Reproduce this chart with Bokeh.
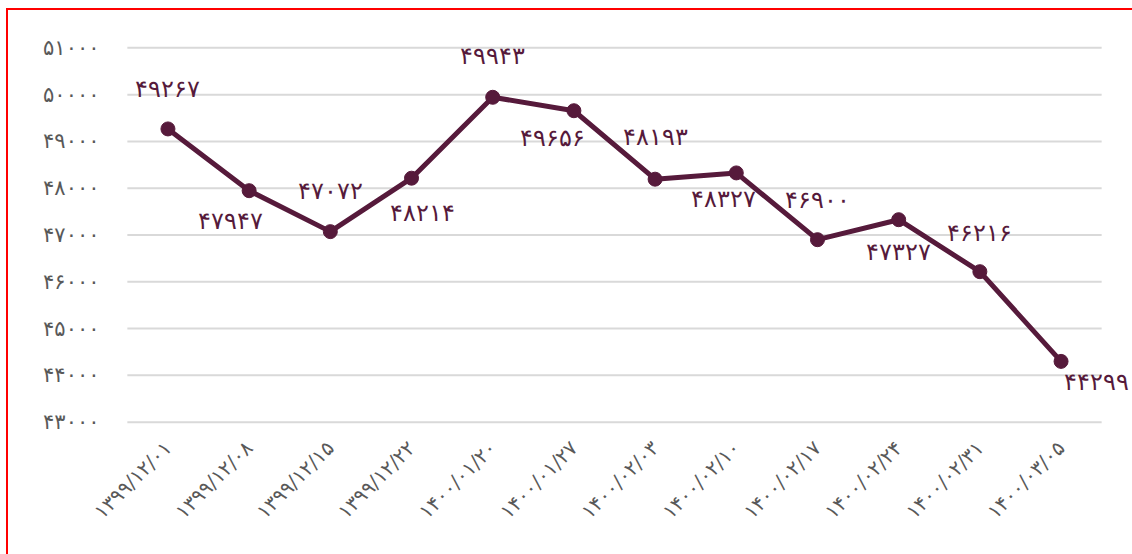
from bokeh.plotting import figure
from bokeh.models import FixedTicker, ColumnDataSource, LabelSet, FactorRange
from bokeh.embed import file_html
from bokeh.resources import INLINE
import math

FA = str.maketrans("0123456789", "۰۱۲۳۴۵۶۷۸۹")

dates = ["1399/12/01", "1399/12/08", "1399/12/15", "1399/12/22", "1400/01/20", "1400/01/27",
         "1400/02/03", "1400/02/10", "1400/02/17", "1400/02/24", "1400/02/31", "1400/03/05"]
prices = [49267, 47947, 47072, 48214, 49943, 49656, 48193, 48327, 46900, 47327, 46216, 44299]
y_ticks = [43000, 44000, 45000, 46000, 47000, 48000, 49000, 50000, 51000]

# label placement (styles): pixel offsets of each value label (up = positive)
label_dx = [0, -19, 0, 11, 0, -21, 0, -13, 0, 0, 0, 35]
label_dy = [40, -30, 41, -35, 41, -27, 42, -26, 40, -32, 39, -21]

cats = [d.translate(FA) for d in dates]
src = ColumnDataSource(dict(x=cats, y=prices, t=[str(v).translate(FA) for v in prices],
                            dx=label_dx, dy=label_dy))
grid_src = ColumnDataSource(dict(x0=[(cats[0], -0.5)] * len(y_ticks),
                                 x1=[(cats[-1], 0.5)] * len(y_ticks),
                                 y=y_ticks))

FONT = "DejaVu Sans"
LINE = "#561a3b"
GRAY = "#595959"

xr = FactorRange(factors=cats, range_padding=0.38, range_padding_units="absolute")
p = figure(x_range=xr, y_range=(42950, 51050), width=1132, height=554,
           output_backend="svg", toolbar_location=None,
           min_border_left=96, min_border_right=0, min_border_top=45, min_border_bottom=130)
p.border_fill_color = None
p.background_fill_color = None
p.styles = {"background": "linear-gradient(red, red) 6px 8px / 2px 100% no-repeat, "
                          "linear-gradient(red, red) 6px 8px / 100% 2px no-repeat, white"}
p.outline_line_color = None
p.xgrid.grid_line_color = None
p.ygrid.grid_line_color = None

p.yaxis.ticker = FixedTicker(ticks=y_ticks)
p.yaxis.major_label_overrides = {v: str(v).translate(FA) for v in y_ticks}
for ax in (p.xaxis, p.yaxis):
    ax.axis_line_color = None
    ax.major_tick_line_color = None
    ax.minor_tick_line_color = None
    ax.major_label_text_font = FONT
    ax.major_label_text_color = GRAY
p.yaxis.major_label_text_font_size = "21px"
p.yaxis.major_label_standoff = -9
p.xaxis.major_label_text_font_size = "20px"
p.xaxis.major_label_orientation = math.pi / 4
p.xaxis.major_label_standoff = 14

p.segment("x0", "y", "x1", "y", source=grid_src, line_color="#d9d9d9", line_width=2)
p.line("x", "y", source=src, line_color=LINE, line_width=5)
p.scatter("x", "y", source=src, size=14, fill_color=LINE, line_color=LINE)
labels = LabelSet(x="x", y="y", text="t", source=src, x_offset="dx", y_offset="dy",
                  text_font=FONT, text_font_size="24px", text_color=LINE,
                  text_align="center", text_baseline="middle")
p.add_layout(labels)

open("out.html", "w").write(file_html(p, INLINE))
